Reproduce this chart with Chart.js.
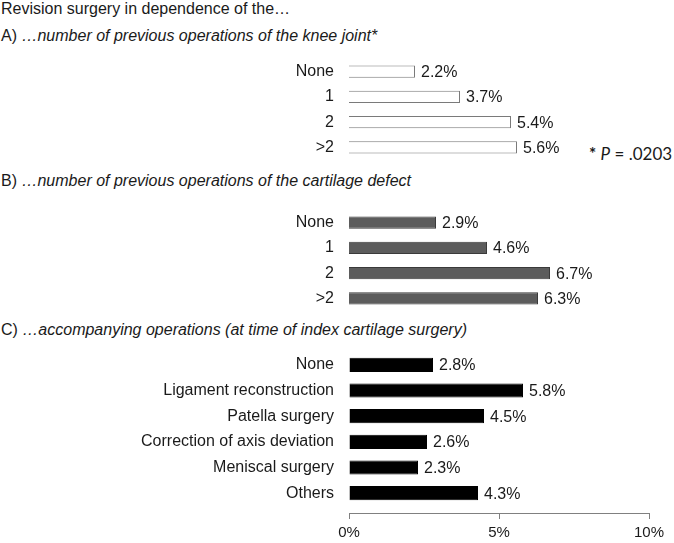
<!DOCTYPE html>
<html>
<head>
<meta charset="utf-8">
<script src="https://cdn.jsdelivr.net/npm/chart.js@4.4.0/dist/chart.umd.min.js"></script>
<style>
  html, body { margin: 0; padding: 0; background: #fff; }
  body {
    width: 674px; height: 543px; position: relative; overflow: hidden;
    font-family: "Liberation Sans", Arial, sans-serif; color: #1a1a1a;
  }
  .txt { position: absolute; left: 1px; font-size: 16px; line-height: 18px; white-space: nowrap; }
  .box { position: absolute; left: 0; width: 674px; }
  #pval { left: 589px; font-family: Lato, "Open Sans", sans-serif; font-size: 17px; }
</style>
</head>
<body>
<div class="txt" style="top:0px">Revision surgery in dependence of the…</div>
<div class="txt" style="top:27px">A) <i>…number of previous operations of the knee joint*</i></div>
<div class="txt" id="pval" style="top:145px"><b>*</b> <i>P</i> = .0203</div>
<div class="txt" style="top:172px">B) <i>…number of previous operations of the cartilage defect</i></div>
<div class="txt" style="top:321px">C) <i>…accompanying operations (at time of index cartilage surgery)</i></div>

<div class="box" style="top:59px;height:101px"><canvas id="chartA"></canvas></div>
<div class="box" style="top:210px;height:101px"><canvas id="chartB"></canvas></div>
<div class="box" style="top:352px;height:191px"><canvas id="chartC"></canvas></div>

<script>
// A) number of previous operations of the knee joint
const labelsA = ["None", "1", "2", ">2"];
const valuesA = [2.2, 3.7, 5.4, 5.6];

// B) number of previous operations of the cartilage defect
const labelsB = ["None", "1", "2", ">2"];
const valuesB = [2.9, 4.6, 6.7, 6.3];

// C) accompanying operations
const labelsC = [
  "None",
  "Ligament reconstruction",
  "Patella surgery",
  "Correction of axis deviation",
  "Meniscal surgery",
  "Others",
];
const valuesC = [2.8, 5.8, 4.5, 2.6, 2.3, 4.3];

// x axis (percent)
const xTicks = [0, 5, 10];

const FONT = '"Liberation Sans", Arial, sans-serif';
const TEXT = "#1a1a1a";

// writes "x.x%" right of each bar
const valueLabels = {
  id: "valueLabels",
  afterDatasetsDraw(chart) {
    const ctx = chart.ctx;
    const data = chart.data.datasets[0].data;
    ctx.save();
    ctx.font = "16px " + FONT;
    ctx.fillStyle = TEXT;
    ctx.textBaseline = "middle";
    chart.getDatasetMeta(0).data.forEach((bar, i) => {
      ctx.fillText(data[i].toFixed(1) + "%", bar.x + 6, bar.y + 1);
    });
    ctx.restore();
  },
};

// no automatic padding around the scales, the boxes are placed by hand
const noPad = (s) => {
  s.paddingTop = 0;
  s.paddingBottom = 0;
  s.paddingLeft = 0;
  s.paddingRight = 0;
};

function makeChart(id, labels, values, fill, border, barPct, withAxis) {
  const xScale = {
    type: "linear",
    min: 0,
    max: 10,
    display: withAxis,
    afterFit: noPad,
  };
  if (withAxis) {
    Object.assign(xScale, {
      position: { y: 5.8 },
      afterBuildTicks: (s) => {
        s.ticks = xTicks.map((v) => ({ value: v }));
      },
      grid: {
        drawOnChartArea: false,
        drawTicks: true,
        tickLength: 5,
        color: "#808080",
      },
      border: { color: "#808080", width: 1 },
      ticks: {
        padding: 5,
        color: TEXT,
        font: { family: FONT, size: 15 },
        callback: (v) => v + "%",
      },
    });
  }

  return new Chart(document.getElementById(id), {
    type: "bar",
    data: {
      labels: labels,
      datasets: [
        {
          data: values,
          backgroundColor: fill,
          borderColor: border,
          borderWidth: 1,
          barPercentage: barPct,
          categoryPercentage: 1,
        },
      ],
    },
    options: {
      indexAxis: "y",
      responsive: true,
      maintainAspectRatio: false,
      animation: false,
      layout: {
        autoPadding: false,
        padding: { left: 0, right: 25, top: 0, bottom: withAxis ? 37 : 0 },
      },
      plugins: {
        legend: { display: false },
        tooltip: { enabled: false },
      },
      scales: {
        x: xScale,
        y: {
          type: "category",
          afterFit: (s) => {
            s.width = 349;
            noPad(s);
          },
          grid: { display: false, drawTicks: false },
          border: { display: false },
          ticks: {
            padding: 15,
            color: TEXT,
            font: { family: FONT, size: 16 },
          },
        },
      },
    },
    plugins: [valueLabels],
  });
}

makeChart("chartA", labelsA, valuesA, "#ffffff", "#7a7a7a", 0.48, false);
makeChart("chartB", labelsB, valuesB, "#5c5c5c", "#3a3a3a", 0.48, false);
makeChart("chartC", labelsC, valuesC, "#000000", "#000000", 0.55, true);
</script>
</body>
</html>
